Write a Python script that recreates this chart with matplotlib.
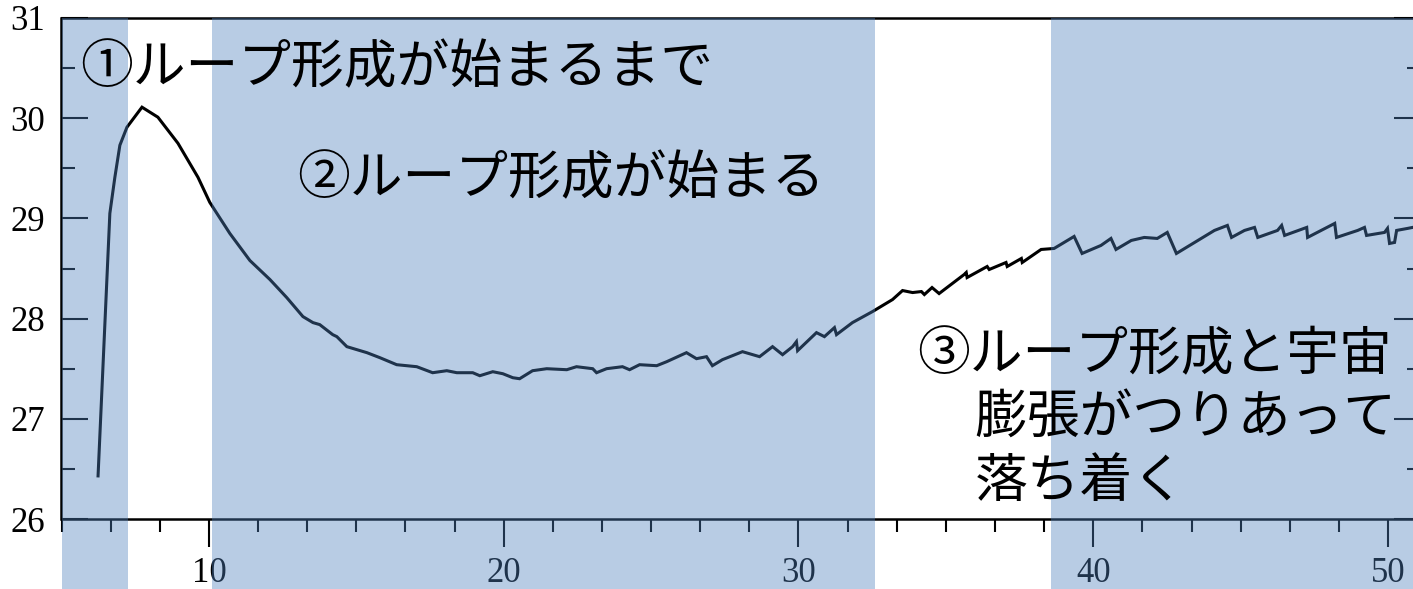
import matplotlib
matplotlib.use("Agg")
import matplotlib.pyplot as plt
from matplotlib.ticker import MultipleLocator, FixedLocator
from matplotlib.patches import Rectangle
import matplotlib.transforms as mtransforms

# ---- data -------------------------------------------------------------
t = [6.24, 6.64, 6.81, 6.98, 7.22, 7.73, 8.27, 8.95, 9.63, 10.03, 10.71,
     11.39, 12.07, 12.64, 13.19, 13.53, 13.76, 14.20, 14.34, 14.68, 15.36,
     15.80, 16.37, 17.05, 17.59, 18.07, 18.41, 18.95, 19.19, 19.63, 19.97,
     20.31, 20.54, 20.98, 21.46, 22.14, 22.47, 23.02, 23.15, 23.49, 24.03,
     24.27, 24.61, 25.19, 25.53, 26.20, 26.54, 26.88, 27.08, 27.42, 28.10,
     28.68, 29.12, 29.46, 29.80, 29.93, 29.97, 30.61, 30.88, 31.22, 31.29,
     31.83, 32.51, 33.19, 33.53, 33.87, 34.17, 34.27, 34.53, 34.77, 35.62,
     35.69, 35.72, 36.40, 36.47, 37.04, 37.08, 37.56, 37.59, 38.23, 38.67,
     39.35, 39.62, 40.26, 40.60, 40.77, 41.29, 41.73, 42.17, 42.51, 42.82,
     44.11, 44.55, 44.69, 45.13, 45.47, 45.58, 46.25, 46.39, 46.49, 47.24,
     47.27, 48.19, 48.25, 48.97, 49.20, 49.27, 49.88, 49.98, 50.05, 50.22,
     50.29, 50.66, 51.00]
value = [26.43, 29.05, 29.41, 29.73, 29.91, 30.11, 30.01, 29.75, 29.41, 29.16,
         28.85, 28.58, 28.39, 28.21, 28.02, 27.96, 27.94, 27.84, 27.82, 27.72,
         27.66, 27.61, 27.54, 27.52, 27.46, 27.48, 27.46, 27.46, 27.43, 27.47,
         27.45, 27.41, 27.40, 27.48, 27.50, 27.49, 27.52, 27.50, 27.46, 27.50,
         27.52, 27.49, 27.54, 27.53, 27.57, 27.66, 27.60, 27.62, 27.53, 27.59,
         27.67, 27.62, 27.72, 27.64, 27.72, 27.77, 27.68, 27.86, 27.82, 27.91,
         27.84, 27.96, 28.07, 28.19, 28.28, 28.26, 28.27, 28.24, 28.31, 28.25,
         28.44, 28.46, 28.41, 28.52, 28.49, 28.56, 28.52, 28.60, 28.56, 28.69,
         28.70, 28.82, 28.65, 28.73, 28.80, 28.69, 28.78, 28.81, 28.80, 28.86,
         28.65, 28.88, 28.93, 28.81, 28.88, 28.91, 28.81, 28.88, 28.93, 28.83,
         28.91, 28.81, 28.95, 28.81, 28.88, 28.91, 28.83, 28.86, 28.90, 28.75,
         28.76, 28.88, 28.90, 28.92]

# shaded phases (start, end)
phases = [(5.0, 7.24), (10.1, 32.58), (38.58, 52.0)]

labels = ["①ループ形成が始まるまで", "②ループ形成が始まる",
          "③ループ形成と宇宙", "膨張がつりあって", "落ち着く"]

x_major = [10, 20, 30, 40, 50]
y_major = [26, 27, 28, 29, 30, 31]

# ---- figure -----------------------------------------------------------
fig = plt.figure(figsize=(14.13, 5.89), dpi=100)
ax = fig.add_axes([61.5 / 1413, 70 / 589, (1420.5 - 61.5) / 1413, 501 / 589])

ax.plot(t, value, color="black", lw=2.2, solid_joinstyle="miter", zorder=3)

ax.set_xlim(5, 51.1)
ax.set_ylim(26, 31)

ax.xaxis.set_major_locator(FixedLocator(x_major))
ax.xaxis.set_minor_locator(MultipleLocator(10 / 6))
ax.yaxis.set_major_locator(FixedLocator(y_major))
ax.yaxis.set_minor_locator(MultipleLocator(0.5))

tick_font = {"family": "Liberation Serif", "size": 25}
ax.set_xticklabels([str(v) for v in x_major], fontdict=tick_font)
ax.set_yticklabels([str(v) for v in y_major], fontdict=tick_font)

ax.tick_params(axis="x", which="major", direction="out", length=20, width=1.5,
               pad=7, top=False)
ax.tick_params(axis="x", which="minor", direction="out", length=9.5, width=1.5,
               top=False)
ax.tick_params(axis="y", which="major", direction="in", length=19.5, width=1.5,
               pad=12, right=True)
ax.tick_params(axis="y", which="minor", direction="in", length=10, width=1.5,
               right=True)

for side in ["left", "bottom", "top", "right"]:
    ax.spines[side].set_linewidth(1.8)

# translucent phase bands laid over the plot, running below the axis
trans = mtransforms.blended_transform_factory(ax.transData, ax.transAxes)
for x0, x1 in phases:
    ax.add_patch(Rectangle((x0, -0.3), x1 - x0, 1.3, transform=trans,
                           facecolor="#4F81BD", alpha=0.4, edgecolor="none",
                           clip_on=False, zorder=10))

jp = {"family": ["Noto Sans CJK JP", "DejaVu Sans"], "size": 38,
      "color": "black", "zorder": 20, "va": "center", "ha": "left"}
ax.text(5.63, 30.50, labels[0], **jp)
ax.text(12.98, 29.40, labels[1], **jp)
ax.text(34.03, 27.64, labels[2], **jp)
ax.text(35.97, 27.01, labels[3], **jp)
ax.text(35.97, 26.37, labels[4], **jp)

fig.savefig("out.png", dpi=100)
